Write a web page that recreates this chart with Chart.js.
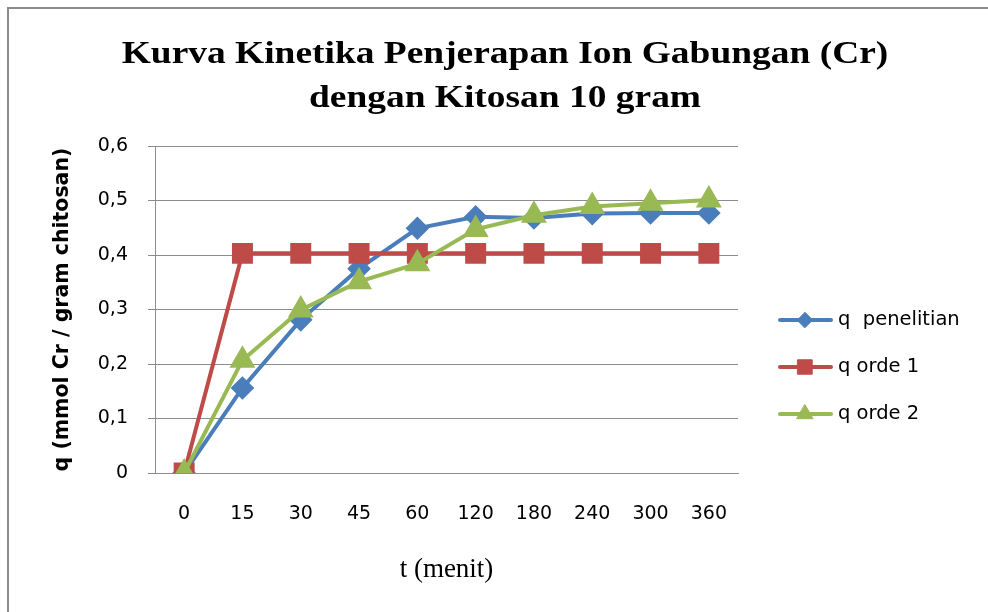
<!DOCTYPE html>
<html>
<head>
<meta charset="UTF-8">
<title>Kurva Kinetika Penjerapan Ion Gabungan (Cr)</title>
<script src="https://cdn.jsdelivr.net/npm/chart.js@4.4.1/dist/chart.umd.min.js"></script>
<style>
    body { margin: 0; background: #fff; }
    #wrap { position: relative; width: 988px; height: 612px; overflow: hidden; }
    #frame { position: absolute; left: 7px; top: 7px; width: 1100px; height: 700px;
             border-left: 2px solid #8c8c8c; border-top: 2px solid #8c8c8c; }
    canvas { position: absolute; left: 0; top: 0; }
</style>
</head>
<body>
<div id="wrap">
    <div id="frame"></div>
    <canvas id="chart" width="988" height="612"></canvas>
</div>
<script>
    const labels = ["0", "15", "30", "45", "60", "120", "180", "240", "300", "360"];
    const qPenelitian = [0, 0.156, 0.281, 0.375, 0.449, 0.470, 0.468, 0.476, 0.477, 0.477];
    const qOrde1 = [0, 0.403, 0.403, 0.403, 0.403, 0.403, 0.403, 0.403, 0.403, 0.403];
    const qOrde2 = [0, 0.207, 0.299, 0.351, 0.384, 0.447, 0.473, 0.489, 0.495, 0.501];
    const seriesNames = ["q  penelitian", "q orde 1", "q orde 2"];
    const titleLines = ["Kurva Kinetika Penjerapan Ion Gabungan (Cr)", "dengan Kitosan 10 gram"];

    const gridColor = "#8c8c8c";
    const labelFont = "DejaVu Sans";

    // title is drawn over the whole picture width, the legend sits to the right of the plot
    const titleAndLegend = {
        id: "titleAndLegend",
        afterDraw(chart) {
            const ctx = chart.ctx;

            ctx.save();
            ctx.fillStyle = "#000";
            ctx.font = "bold 32px 'Liberation Serif'";
            ctx.textAlign = "center";
            ctx.textBaseline = "alphabetic";
            ctx.translate(505, 0);
            ctx.scale(1.17, 1);
            ctx.fillText(titleLines[0], 0, 63);
            ctx.fillText(titleLines[1], 0, 107);
            ctx.restore();

            const ys = [320, 367, 414];
            chart.data.datasets.forEach((ds, i) => {
                const y = ys[i];
                ctx.save();
                ctx.strokeStyle = ds.borderColor;
                ctx.lineWidth = 4;
                ctx.lineCap = "round";
                ctx.beginPath();
                ctx.moveTo(780, y);
                ctx.lineTo(831, y);
                ctx.stroke();
                ctx.fillStyle = ds.pointBackgroundColor;
                ctx.strokeStyle = ds.pointBorderColor;
                ctx.lineWidth = 1;
                Chart.helpers.drawPoint(ctx, {
                    pointStyle: ds.pointStyle,
                    radius: ds.pointRadius * 0.85,
                    borderWidth: 1
                }, 805, y);
                ctx.fillStyle = "#000";
                ctx.font = "19.5px '" + labelFont + "'";
                ctx.textBaseline = "middle";
                ctx.fillText(seriesNames[i], 838, y);
                ctx.restore();
            });
        }
    };

    function series(name, data, color, style, radius, order) {
        return {
            label: name,
            data: data,
            borderColor: color,
            backgroundColor: color,
            pointBackgroundColor: color,
            pointBorderColor: color,
            borderWidth: 4,
            pointStyle: style,
            pointRadius: radius,
            pointHoverRadius: radius,
            tension: 0,
            fill: false,
            order: order
        };
    }

    new Chart(document.getElementById("chart"), {
        type: "line",
        data: {
            labels: labels,
            datasets: [
                series(seriesNames[0], qPenelitian, "#4a7ebb", "rectRot", 9, 3),
                series(seriesNames[1], qOrde1, "#be4b48", "rect", 12, 2),
                series(seriesNames[2], qOrde2, "#98b954", "triangle", 11, 1)
            ]
        },
        options: {
            responsive: false,
            animation: false,
            layout: { padding: { left: 0, right: 250, top: 146, bottom: 0 } },
            plugins: {
                legend: { display: false },
                tooltip: { enabled: false },
                title: { display: false }
            },
            scales: {
                x: {
                    offset: true,
                    grid: { display: false, drawTicks: false },
                    border: { display: true, color: gridColor },
                    ticks: { color: "#000", font: { family: labelFont, size: 19 }, padding: 30, maxRotation: 0 },
                    title: {
                        display: true,
                        text: "t (menit)",
                        color: "#000",
                        font: { family: "Liberation Serif", size: 27 },
                        padding: { top: 0, bottom: 26 }
                    },
                    afterFit(scale) { scale.height = 139; }
                },
                y: {
                    min: 0,
                    max: 0.6,
                    ticks: {
                        stepSize: 0.1,
                        color: "#000",
                        padding: 20,
                        font: { family: labelFont, size: 19 },
                        callback: v => v.toFixed(1).replace(".", ",").replace(/^0,0$/, "0")
                    },
                    grid: { color: gridColor, lineWidth: 1, tickLength: 7 },
                    border: { display: true, color: gridColor },
                    title: {
                        display: true,
                        text: "q (mmol Cr / gram chitosan)",
                        color: "#000",
                        font: { family: labelFont, size: 20.5, weight: "bold" },
                        padding: { top: 50, bottom: 0 }
                    },
                    afterFit(scale) { scale.width = 155; }
                }
            }
        },
        plugins: [titleAndLegend]
    });
</script>
</body>
</html>
